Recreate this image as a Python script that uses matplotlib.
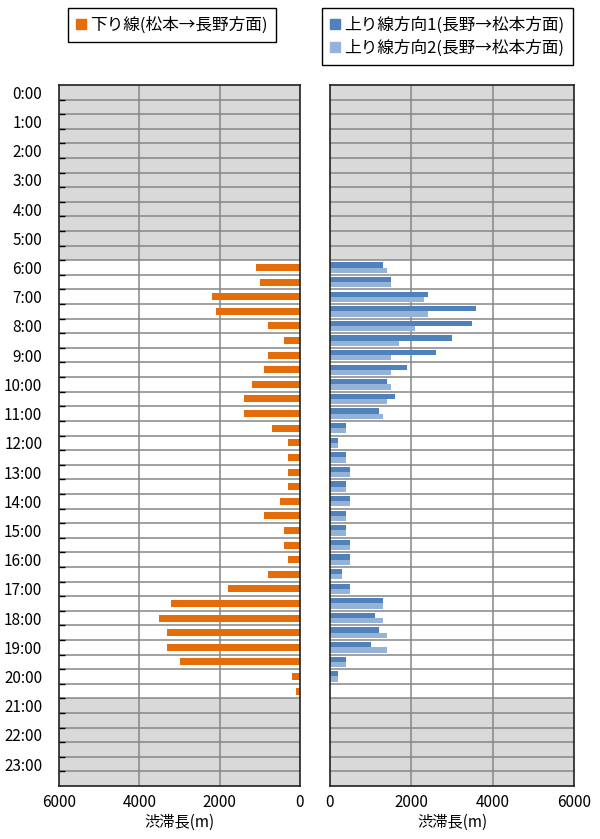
import numpy as np
import matplotlib.pyplot as plt
from matplotlib.lines import Line2D

plt.rcParams['font.family'] = ['Noto Sans CJK JP', 'DejaVu Sans']

# half-hour slots of the day, only 6:00-20:30 carry congestion data
hours = ["{}:00".format(h) for h in range(24)]
first_slot = 12  # 6:00

down_len = [1100, 1000, 2200, 2100, 800, 400, 800, 900, 1200, 1400, 1400, 700,
            300, 300, 300, 300, 500, 900, 400, 400, 300, 800, 1800, 3200,
            3500, 3300, 3300, 3000, 200, 100]
up1_len = [1300, 1500, 2400, 3600, 3500, 3000, 2600, 1900, 1400, 1600, 1200, 400,
           200, 400, 500, 400, 500, 400, 400, 500, 500, 300, 500, 1300,
           1100, 1200, 1000, 400, 200, 0]
up2_len = [1400, 1500, 2300, 2400, 2100, 1700, 1500, 1500, 1500, 1400, 1300, 400,
           200, 400, 500, 400, 500, 400, 400, 500, 500, 300, 500, 1300,
           1300, 1400, 1400, 400, 200, 0]

down_name = "下り線(松本→長野方面)"
up1_name = "上り線方向1(長野→松本方面)"
up2_name = "上り線方向2(長野→松本方面)"

c_down = '#E46C0A'
c_up1 = '#4F81BD'
c_up2 = '#95B3D7'
c_shade = '#D9D9D9'
c_grid = '#868686'

n_slots = 48
slots = np.arange(first_slot, first_slot + len(down_len))

fig = plt.figure(figsize=(6, 8.39), dpi=100)
bottom = 1 - 786 / 839
height = (786 - 85) / 839
ax_l = fig.add_axes([59 / 600, bottom, 241 / 600, height])
ax_r = fig.add_axes([330 / 600, bottom, 244 / 600, height])

def setup_axis(ax):
  # night hours shaded grey
  ax.axhspan(-0.5, 11.5, color=c_shade, zorder=0, lw=0)
  ax.axhspan(41.5, 47.5, color=c_shade, zorder=0, lw=0)
  ax.set_ylim(n_slots - 0.5, -0.5)
  ax.set_yticks(np.arange(0, n_slots, 2))
  ax.set_yticks(np.arange(0.5, n_slots - 0.5, 1), minor=True)
  ax.tick_params(axis='y', which='major', length=0, labelsize=11, pad=12)
  ax.set_xticks([0, 2000, 4000, 6000])
  ax.tick_params(axis='x', length=0, labelsize=11, pad=6)
  for y in np.arange(0.5, n_slots - 0.5, 1):
    ax.axhline(y, color=c_grid, lw=1.1, zorder=1)
  for x in [2000, 4000]:
    ax.axvline(x, color=c_grid, lw=1.1, zorder=1)
  for s in ax.spines.values():
    s.set_color('#202020')
    s.set_linewidth(1.2)
    s.set_zorder(5)
  ax.set_xlabel("渋滞長(m)", fontsize=11, labelpad=2)

setup_axis(ax_l)
ax_l.set_xlim(6000, 0)
ax_l.set_yticklabels(hours, ha='right')
ax_l.tick_params(axis='y', which='minor', direction='in', length=4, width=1)
ax_l.barh(slots, down_len, height=0.48, color=c_down, zorder=3)

setup_axis(ax_r)
ax_r.set_xlim(0, 6000)
ax_r.set_yticklabels([])
ax_r.tick_params(axis='y', which='minor', length=0)
bw = 0.36
ax_r.barh(slots - bw / 2, up1_len, height=bw, color=c_up1, zorder=3)
ax_r.barh(slots + bw / 2, up2_len, height=bw, color=c_up2, zorder=3)

def square(color):
  return Line2D([], [], marker='s', ls='none', color=color, markersize=7)

leg_kw = dict(frameon=True, fancybox=False, fontsize=12, handlelength=0.6,
              handletextpad=0.25, borderpad=0.5, labelspacing=0.35,
              borderaxespad=0, edgecolor='black', framealpha=1)
leg1 = fig.legend([square(c_down)], [down_name], loc='upper left',
                  bbox_to_anchor=(68 / 600, 1 - 8 / 839), **leg_kw)
leg2 = fig.legend([square(c_up1), square(c_up2)], [up1_name, up2_name],
                  loc='upper left', bbox_to_anchor=(322 / 600, 1 - 8 / 839), **leg_kw)
for leg in (leg1, leg2):
  leg.get_frame().set_linewidth(1.0)

fig.savefig("out.png", dpi=100)
